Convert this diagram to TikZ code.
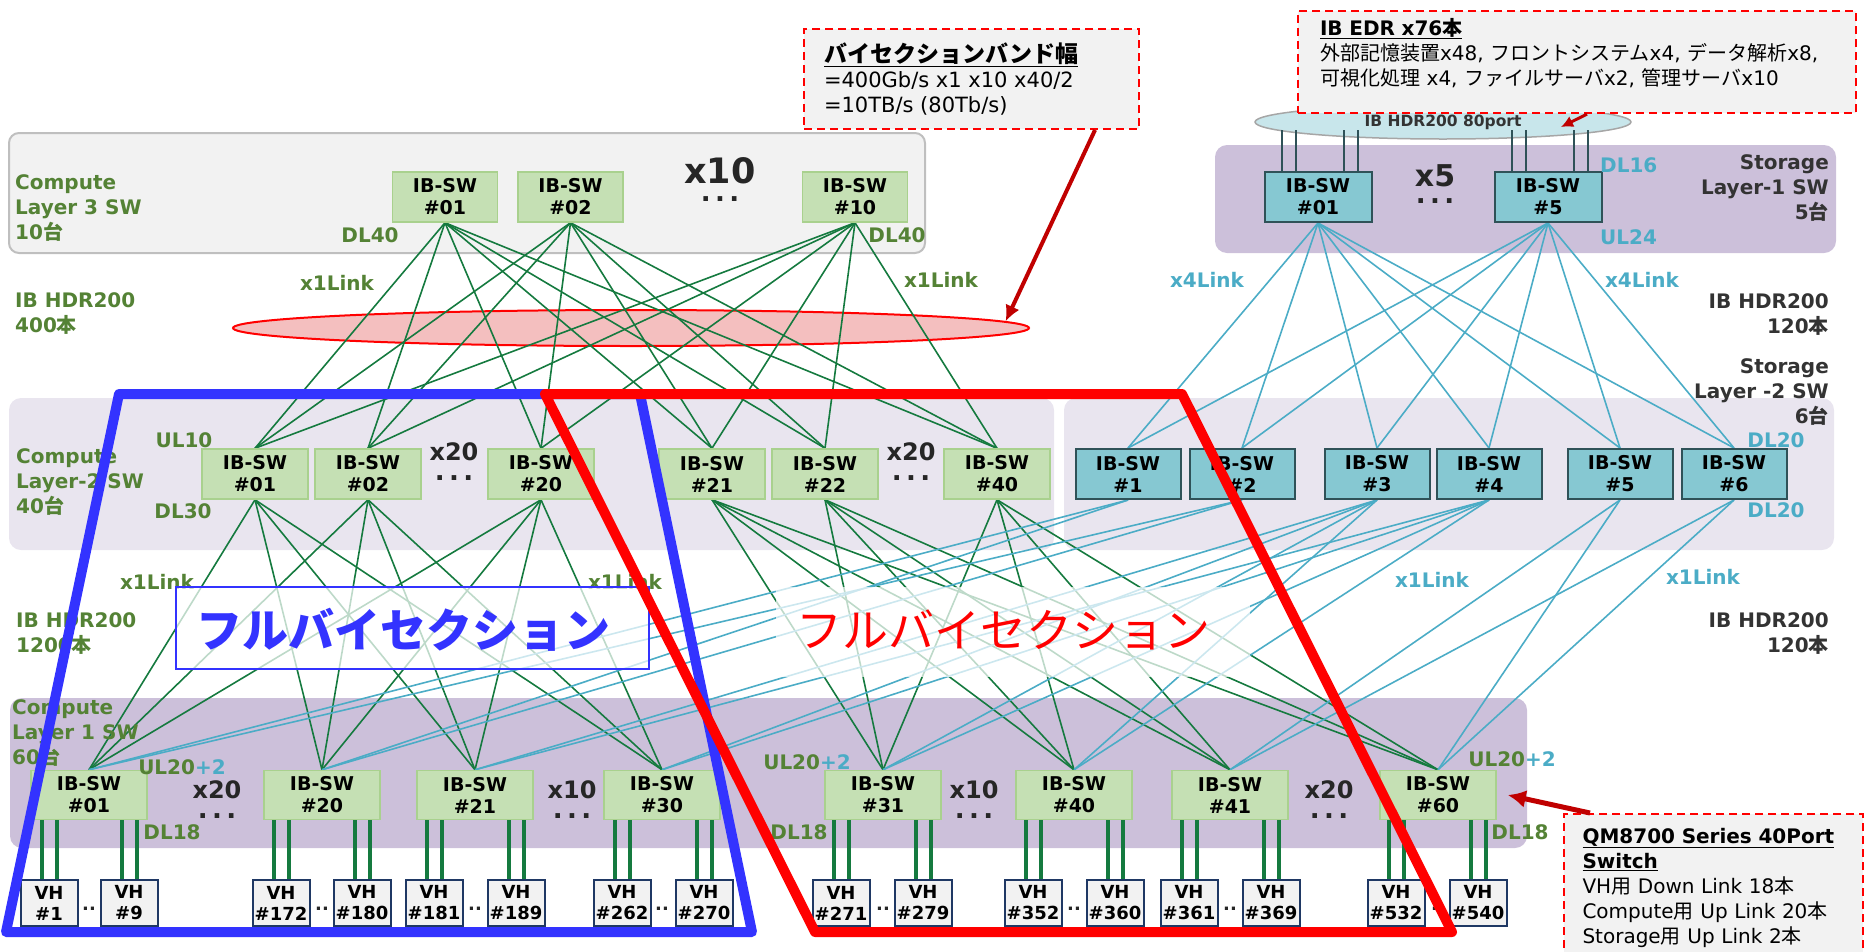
\documentclass[tikz,border=0pt]{standalone}
\usepackage{fontspec}
\setmainfont{DejaVu Sans}
\newfontfamily\jpfont{Noto Sans CJK JP}
\newcommand{\ja}[1]{{\jpfont #1}}
\newcommand{\mdots}{{\fontsize{26}{26}\selectfont .\,.\,.}}
\usetikzlibrary{shapes.geometric, arrows.meta, positioning}

\definecolor{swgreen}{HTML}{C5E0B4}
\definecolor{swedge}{HTML}{A9D18E}
\definecolor{lblgreen}{HTML}{548235}
\definecolor{linkgreen}{HTML}{157A3F}
\definecolor{stteal}{HTML}{4BACC6}
\definecolor{stfill}{HTML}{86C8D2}
\definecolor{stedge}{HTML}{2F5258}
\definecolor{paneltop}{HTML}{F2F2F2}
\definecolor{panelmid}{HTML}{E9E5EF}
\definecolor{panellow}{HTML}{CCC0DA}
\definecolor{vhedge}{HTML}{1F3864}
\definecolor{callred}{HTML}{C00000}
\definecolor{fullblue}{HTML}{3333FF}
\definecolor{darktext}{HTML}{333333}
\definecolor{bisfill}{HTML}{F4BFBF}
\definecolor{portfill}{HTML}{C8E6EB}

\pgfdeclarelayer{panel}
\pgfdeclarelayer{links}
\pgfdeclarelayer{over}
\pgfsetlayers{panel,links,main,over}

\begin{document}
\begin{tikzpicture}[x=1pt, y=-1pt, >=Latex,
  sw/.style={draw=swedge, fill=swgreen, line width=1.5, minimum width=106, minimum height=50, inner sep=0, align=center, font=\fontsize{19}{22}\selectfont\bfseries},
  ssw/.style={sw, draw=stedge, fill=stfill, line width=2},
  vh/.style={draw=vhedge, fill=paneltop, line width=2, minimum width=57, minimum height=46, inner sep=0, align=center, font=\fontsize{18}{21}\selectfont\bfseries},
  glbl/.style={text=lblgreen, font=\fontsize{20}{25}\selectfont\bfseries, align=left, inner sep=0},
  tlbl/.style={glbl, text=stteal},
  dlbl/.style={glbl, text=darktext, align=right, anchor=east},
  mult/.style={text=black!85, font=\fontsize{24}{20}\selectfont\bfseries, inner sep=0, align=center, anchor=north},
  gline/.style={linkgreen, line width=1.6},
  tline/.style={stteal, line width=1.6},
  vline/.style={linkgreen, line width=4},
  pline/.style={stedge, line width=1.4},
  note/.style={draw=red, dash pattern=on 8pt off 5pt, line width=2, fill=paneltop, anchor=north west, align=left, inner xsep=20, font=\fontsize{20}{25}\selectfont},
  callout/.style={callred, line width=4, -{Latex[length=16pt, width=15pt]}},
]

\useasboundingbox (0,0) rectangle (1864,951);

% panels
\begin{pgfonlayer}{panel}
\filldraw[fill=paneltop, draw=black!25, line width=2, rounded corners=10] (9,133) rectangle (925,253);
\fill[panelmid, rounded corners=12] (9,398) rectangle (1054,550);
\fill[panelmid, rounded corners=12] (1064,398) rectangle (1834,550);
\fill[panellow, rounded corners=12] (10,698) rectangle (1527,848);
\fill[panellow, rounded corners=12] (1215,145) rectangle (1836,253);
\node[ellipse, draw=red, fill=bisfill, line width=2, minimum width=796, minimum height=36, inner sep=0] (bisell) at (631,328) {};
\node[ellipse, draw=black!35, fill=portfill, line width=1.5, minimum width=376, minimum height=34, inner sep=0, font=\fontsize{15.5}{17}\selectfont\bfseries, text=darktext] (port) at (1443,122) {IB HDR200 80port};
\end{pgfonlayer}

% compute switches
\node[sw, minimum width=105] (l3a) at (445,197) {IB-SW\\\#01};
\node[sw, minimum width=105, right=19pt of l3a] (l3b) {IB-SW\\\#02};
\node[sw, minimum width=105] (l3c) at (855,197) {IB-SW\\\#10};

\foreach \n/\x/\k in {c2a/255/01, c2b/368/02, c2c/541/20, c2d/712/21, c2e/825/22, c2f/997/40}
  \node[sw] (\n) at (\x,474) {IB-SW\\\#\k};

\foreach \n/\x/\k in {c1a/89/01, c1b/322/20, c1c/475/21, c1d/662/30, c1e/883/31, c1f/1074/40, c1g/1230/41, c1h/1438/60}
  \node[sw, minimum width=116, minimum height=49] (\n) at (\x,795) {IB-SW\\\#\k};

\foreach \x/\k in {49/1, 129/9, 281/172, 362/180, 434/181, 516/189, 622/262, 704/270, 841/271, 923/279, 1033/352, 1115/360, 1189/361, 1271/369, 1396/532, 1478/540}
  \node[vh] (vh\k) at (\x,903) {VH\\\#\k};

% storage switches
\node[ssw, minimum width=107] (s1a) at (1318,197) {IB-SW\\\#01};
\node[ssw, minimum width=107] (s1b) at (1548,197) {IB-SW\\\#5};
\foreach \n/\x/\k in {s2a/1128/1, s2b/1242/2, s2c/1377/3, s2d/1489/4, s2e/1620/5, s2f/1734/6}
  \node[ssw, minimum width=105] (\n) at (\x,474) {IB-SW\\\#\k};

% links
\begin{pgfonlayer}{links}
\foreach \up in {l3a,l3b,l3c}
  \foreach \dn in {c2a,c2b,c2c,c2d,c2e,c2f}
    \draw[gline] (\up.south) -- (\dn.north);
\foreach \up in {c2a,c2b,c2c}
  \foreach \dn in {c1a,c1b,c1c,c1d}
    \draw[gline] (\up.south) -- (\dn.north);
\foreach \up in {c2d,c2e,c2f}
  \foreach \dn in {c1e,c1f,c1g,c1h}
    \draw[gline] (\up.south) -- (\dn.north);
\foreach \up in {s1a,s1b}
  \foreach \dn in {s2a,s2b,s2c,s2d,s2e,s2f}
    \draw[tline] (\up.south) -- (\dn.north);
\foreach \up in {s2a,s2b}
  \foreach \dn in {c1a,c1b}
    \draw[tline] (\up.south) -- (\dn.north);
\foreach \up in {s2c,s2d}
  \foreach \dn in {c1c,c1d,c1e,c1f}
    \draw[tline] (\up.south) -- (\dn.north);
\foreach \up in {s2e,s2f}
  \foreach \dn in {c1g,c1h}
    \draw[tline] (\up.south) -- (\dn.north);
\foreach \s/\l/\r in {c1a/1/9, c1b/172/180, c1c/181/189, c1d/262/270, c1e/271/279, c1f/352/360, c1g/361/369, c1h/532/540}
  \foreach \v in {\l,\r}
    \foreach \d in {-7.5,7.5}
      \draw[vline] ([xshift=\d]vh\v.north) -- ([xshift=\d]vh\v.north |- \s.south);
\foreach \s in {s1a,s1b}
  \foreach \d in {-36,-22,26,40}
    \draw[pline] ([xshift=\d]\s.north) -- ([xshift=\d, yshift=-8]\s.north |- port.center);
\end{pgfonlayer}

% dots between host pairs
\foreach \s/\v in {c1a/vh1, c1b/vh172, c1c/vh181, c1d/vh262, c1e/vh271, c1f/vh352, c1g/vh361, c1h/vh532}
  \node[text=black!85, font=\fontsize{18}{18}\selectfont\bfseries, inner sep=0, yshift=-6] (dd\v) at (\s |- \v) {..};

% compute side labels
\node[glbl, anchor=west] (l3name) at (15,208) {Compute\\Layer 3 SW\\10\ja{台}};
\node[glbl, anchor=west] (l3hdr) at (15,314) {IB HDR200\\400\ja{本}};
\node[glbl, anchor=west] (l2name) at (16,482) {Compute\\Layer-2 SW\\40\ja{台}};
\node[glbl, anchor=west] (l2hdr) at (16,634) {IB HDR200\\1200\ja{本}};
\node[glbl, anchor=west] (l1name) at (12,733) {Compute\\Layer 1 SW\\60\ja{台}};

\node[glbl] (dl40a) at (370,235) {DL40};
\node[glbl] (dl40b) at (897,235) {DL40};
\node[glbl] (lk3a) at (337,283) {x1Link};
\node[glbl] (lk3b) at (941,280) {x1Link};
\node[glbl] (ul10) at (184,440) {UL10};
\node[glbl] (dl30) at (183,511) {DL30};
\node[glbl] (lk2a) at (157,582) {x1Link};
\node[glbl] (lk2b) at (625,582) {x1Link};
\foreach \n/\x/\y in {ula/182/767, ulb/807/762, ulc/1512/759}
  \node[glbl] (\n) at (\x,\y) {UL20\textcolor{stteal}{+2}};
\foreach \n/\x in {dla/172, dlb/799, dlc/1520}
  \node[glbl] (\n) at (\x,832) {DL18};

% storage side labels
\node[dlbl] (st1name) at (1829,188) {Storage\\Layer-1 SW\\5\ja{台}};
\node[dlbl] (st1hdr) at (1829,315) {IB HDR200\\120\ja{本}};
\node[dlbl] (st2name) at (1829,392) {Storage\\Layer -2 SW\\6\ja{台}};
\node[dlbl] (st2hdr) at (1829,634) {IB HDR200\\120\ja{本}};
\node[tlbl, anchor=west] (dl16) at (1600,165) {DL16};
\node[tlbl, anchor=west] (ul24) at (1600,237) {UL24};
\node[tlbl] (lk4a) at (1207,280) {x4Link};
\node[tlbl] (lk4b) at (1642,280) {x4Link};
\node[tlbl] (dl20a) at (1776,440) {DL20};
\node[tlbl] (dl20b) at (1776,510) {DL20};
\node[tlbl] (lk1a) at (1432,580) {x1Link};
\node[tlbl] (lk1b) at (1703,577) {x1Link};

% multipliers
\node[mult, font=\fontsize{35}{18}\selectfont\bfseries] (m3) at (720,157) {x10\\\mdots};
\node[mult, font=\fontsize{30}{17}\selectfont\bfseries] (ms1) at (1435,164) {x5\\\mdots};
\foreach \n/\x/\y/\t in {m2a/454/442/20, m2b/911/442/20, m1a/217/780/20, m1b/572/780/10, m1c/974/780/10, m1d/1329/780/20}
  \node[mult] (\n) at (\x,\y) {x\t\\\mdots};

% bisection overlays
\begin{pgfonlayer}{over}
\node[draw=fullblue, line width=1.5, fill=white, fill opacity=0.72, minimum width=473, minimum height=82, inner sep=0] (fullbox) at (412.5,628) {};
\node[text=fullblue, font=\jpfont\bfseries\fontsize{46}{46}\selectfont, inner sep=0] (fullL) at (403,630) {フルバイセクション};
\fill[white, opacity=0.72] (776,587) rectangle (1250,677);
\node[text=red, font=\jpfont\fontsize{46}{46}\selectfont, inner sep=0] (fullR) at (1003,630) {フルバイセクション};
\draw[fullblue, line width=10, line join=round] (119,394) -- (640,394) -- (752,932) -- (6,932) -- cycle;
\draw[red, line width=10, line join=round] (545,394) -- (1182,394) -- (1452,932) -- (815,932) -- cycle;

% notes
\node[note, text width=295, minimum height=100] (bisnote) at (803,28)
  {\fontsize{23}{25}\selectfont\textbf{\underline{\ja{バイセクションバンド幅}}}\\ \fontsize{21}{25}\selectfont =400Gb/s x1 x10 x40/2\\ =10TB/s (80Tb/s)};
\node[note, text width=514, inner xsep=22, inner ysep=7] (edrnote) at (1297,10)
  {\textbf{\underline{IB EDR x76\ja{本}}}\\ \ja{外部記憶装置}x48, \ja{フロントシステム}x4, \ja{データ解析}x8,\\ \ja{可視化処理} x4, \ja{ファイルサーバ}x2, \ja{管理サーバ}x10\\[-4pt]\mbox{}};
\node[note, text width=262, inner xsep=18.5, minimum height=147] (qmnote) at (1563,813)
  {\textbf{\underline{QM8700 Series 40Port}}\\ \textbf{\underline{Switch}}\\ VH\ja{用} Down Link 18\ja{本}\\ Compute\ja{用} Up Link 20\ja{本}\\ Storage\ja{用} Up Link 2\ja{本}};
\coordinate (edrtip) at (1561,127);
\draw[callout] ([xshift=123.5]bisnote.south) -- (bisell.1.3);
\draw[callout, line width=3, -{Latex[length=12pt, width=12pt]}] ([xshift=10]edrnote.south) -- (edrtip);
\draw[callout, line width=5, -{Latex[length=18pt, width=18pt]}] ([xshift=27]qmnote.north west) -- ([xshift=11]c1h.east);
\end{pgfonlayer}

\end{tikzpicture}
\end{document}
